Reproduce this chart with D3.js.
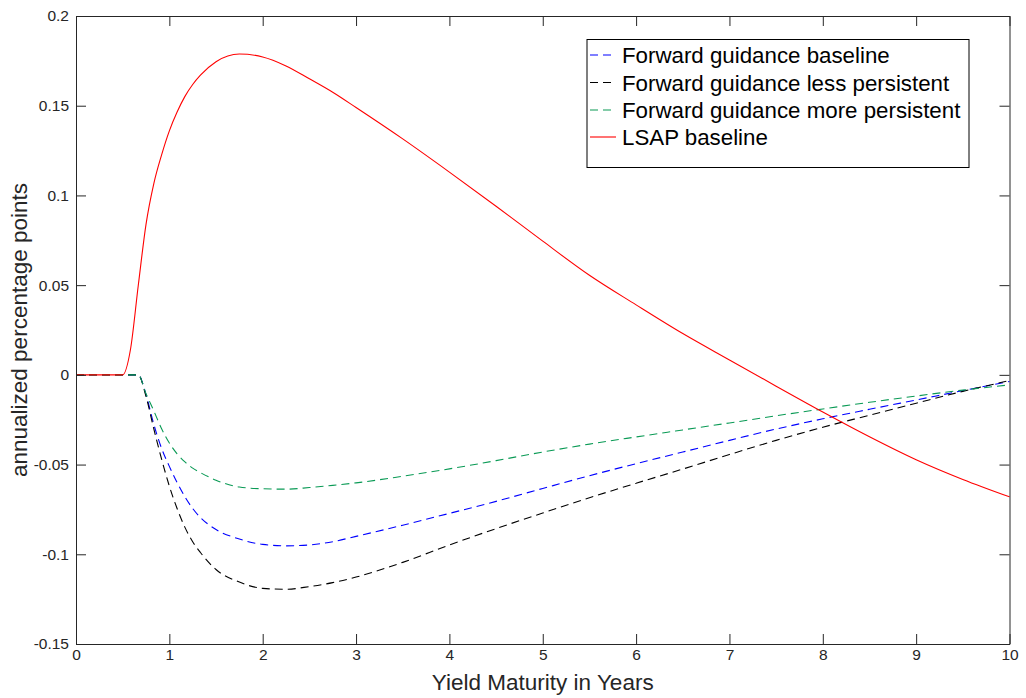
<!DOCTYPE html>
<html>
<head>
<meta charset="utf-8">
<script src="https://cdn.jsdelivr.net/npm/d3@7"></script>
<style>
  html, body { margin: 0; padding: 0; background: #fff; }
  svg { display: block; font-family: "Liberation Sans", Arial, sans-serif; }
</style>
</head>
<body>
<svg id="chart" width="1026" height="698"></svg>
<script>
// ---- data ----
const maturity = [0, 0.5, 0.583, 0.667, 0.75, 0.833, 0.917, 1, 1.083, 1.167, 1.25, 1.333, 1.5, 1.75, 2, 2.25, 2.5, 2.75, 3, 3.5, 4, 4.5, 5, 5.5, 6, 6.5, 7, 7.5, 8, 8.5, 9, 9.5, 10];
const fgBaseline = [0, 0, 0, 0, -0.011, -0.0275, -0.041, -0.051, -0.060, -0.068, -0.0745, -0.0795, -0.0862, -0.0915, -0.0945, -0.0953, -0.0948, -0.0930, -0.0900, -0.0838, -0.0772, -0.0705, -0.0633, -0.0562, -0.0495, -0.0430, -0.0365, -0.0302, -0.0245, -0.0192, -0.0140, -0.0088, -0.0037];
const fgLess = [0, 0, 0, 0, -0.012, -0.030, -0.047, -0.062, -0.0745, -0.085, -0.093, -0.099, -0.1085, -0.1155, -0.119, -0.1195, -0.118, -0.1158, -0.1127, -0.1045, -0.0948, -0.0857, -0.0770, -0.0685, -0.0604, -0.0525, -0.0444, -0.0365, -0.0292, -0.0225, -0.0158, -0.0092, -0.0032];
const fgMore = [0, 0, 0, 0, -0.0105, -0.020, -0.030, -0.038, -0.044, -0.0485, -0.052, -0.0545, -0.0587, -0.0625, -0.0635, -0.0637, -0.0628, -0.0616, -0.0602, -0.0565, -0.0524, -0.0478, -0.0430, -0.0386, -0.0346, -0.0307, -0.0268, -0.0228, -0.0190, -0.0153, -0.0118, -0.0085, -0.0056];
const lsapBaseline = [0, 0, 0.014, 0.0498, 0.0839, 0.1065, 0.1226, 0.136, 0.1465, 0.1552, 0.1618, 0.1670, 0.1745, 0.1788, 0.1772, 0.1722, 0.1650, 0.1575, 0.1490, 0.1315, 0.1130, 0.0940, 0.0745, 0.0555, 0.0390, 0.0230, 0.0083, -0.0063, -0.0207, -0.0345, -0.0473, -0.0583, -0.068];

const seriesNames = ["Forward guidance baseline", "Forward guidance less persistent", "Forward guidance more persistent", "LSAP baseline"];
const seriesValues = [fgBaseline, fgLess, fgMore, lsapBaseline];
const seriesColors = ["#0000ff", "#000000", "#0a9a55", "#ff0000"];
const seriesDashed = [true, true, true, false];

const xTicks = [0, 1, 2, 3, 4, 5, 6, 7, 8, 9, 10];
const xTickLabels = ["0", "1", "2", "3", "4", "5", "6", "7", "8", "9", "10"];
const yTicks = [-0.15, -0.1, -0.05, 0, 0.05, 0.1, 0.15, 0.2];
const yTickLabels = ["-0.15", "-0.1", "-0.05", "0", "0.05", "0.1", "0.15", "0.2"];

const xLabel = "Yield Maturity in Years";
const yLabel = "annualized percentage points";

// ---- layout ----
const L = 76, R = 1009.5, T = 16, B = 644;
const svg = d3.select("#chart");
const x = d3.scaleLinear().domain([0, 10]).range([L, R]);
const y = d3.scaleLinear().domain([-0.15, 0.2]).range([B, T]);
const axisColor = "#262626";

// series
const line = d3.line().x(d => x(d[0])).y(d => y(d[1])).curve(d3.curveMonotoneX);
const plot = svg.append("g");
seriesValues.forEach((vals, i) => {
  plot.append("path")
    .datum(maturity.map((m, j) => [m, vals[j]]))
    .attr("d", line)
    .attr("fill", "none")
    .attr("stroke", seriesColors[i])
    .attr("stroke-width", 1.1)
    .attr("stroke-dasharray", seriesDashed[i] ? "8,5" : null);
});

// axes
function styleAxis(g) {
  g.selectAll("path.domain").attr("stroke", axisColor).attr("stroke-width", 1);
  g.selectAll(".tick line").attr("stroke", axisColor).attr("stroke-width", 1);
  g.selectAll(".tick text").attr("fill", axisColor).style("font-size", "15.5px")
    .style("font-family", "'Liberation Sans', Arial, sans-serif");
}
svg.append("g").attr("transform", `translate(0,${B})`)
  .call(d3.axisBottom(x).tickValues(xTicks).tickFormat((d, i) => xTickLabels[i]).tickSize(-10).tickSizeOuter(0).tickPadding(5))
  .call(styleAxis);
svg.append("g").attr("transform", `translate(0,${T})`)
  .call(d3.axisTop(x).tickValues(xTicks).tickFormat("").tickSize(-10).tickSizeOuter(0))
  .call(styleAxis);
svg.append("g").attr("transform", `translate(${L},0)`)
  .call(d3.axisLeft(y).tickValues(yTicks).tickFormat((d, i) => yTickLabels[i]).tickSize(-10).tickSizeOuter(0).tickPadding(7))
  .call(styleAxis);
svg.append("g").attr("transform", `translate(${R},0)`)
  .call(d3.axisRight(y).tickValues(yTicks).tickFormat("").tickSize(-10).tickSizeOuter(0))
  .call(styleAxis);

// axis labels
svg.append("text")
  .attr("x", (L + R) / 2).attr("y", 690)
  .attr("text-anchor", "middle")
  .attr("fill", axisColor)
  .style("font-size", "22.5px")
  .text(xLabel);
svg.append("text")
  .attr("transform", `translate(27,${(T + B) / 2}) rotate(-90)`)
  .attr("text-anchor", "middle")
  .attr("fill", axisColor)
  .style("font-size", "22.5px")
  .text(yLabel);

// legend
const lg = svg.append("g");
lg.append("rect")
  .attr("x", 587).attr("y", 39.5).attr("width", 382).attr("height", 128)
  .attr("fill", "#fff").attr("stroke", "#000").attr("stroke-width", 1);
const rowY = [55, 82.5, 110, 137];
seriesNames.forEach((name, i) => {
  lg.append("line")
    .attr("x1", 590).attr("x2", 616).attr("y1", rowY[i]).attr("y2", rowY[i])
    .attr("stroke", seriesColors[i]).attr("stroke-width", 1.1)
    .attr("stroke-dasharray", seriesDashed[i] ? "8,5" : null);
  lg.append("text")
    .attr("x", 622).attr("y", rowY[i]).attr("dy", "0.36em")
    .attr("fill", "#000")
    .style("font-size", "22.3px")
    .text(name);
});
</script>
</body>
</html>
